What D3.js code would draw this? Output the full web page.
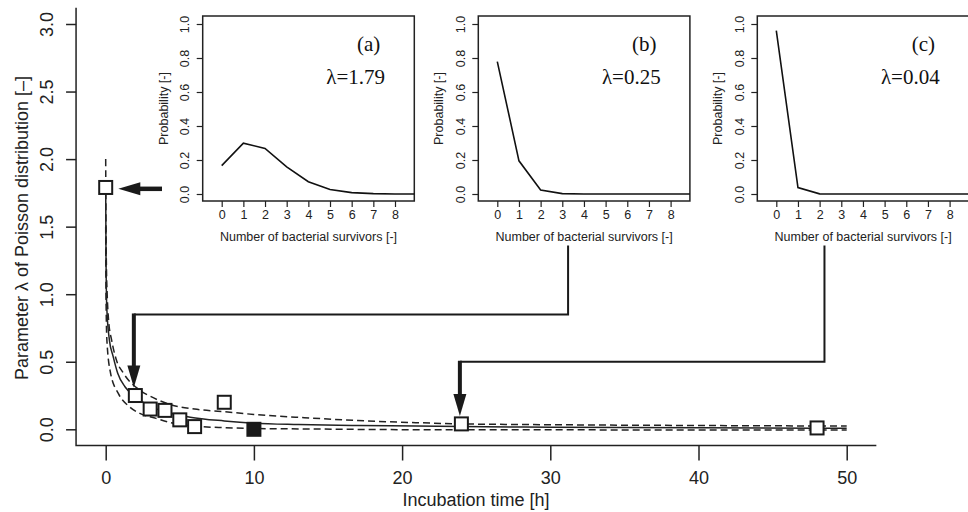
<!DOCTYPE html>
<html>
<head>
<meta charset="utf-8">
<script src="https://cdn.jsdelivr.net/npm/d3@7"></script>
<style>
  body { margin: 0; background: #fff; }
  svg { display: block; font-family: "Liberation Sans", Arial, sans-serif; }
</style>
</head>
<body>
<div id="chart"></div>
<script>
// observed lambda at each incubation time
var times = [0, 2, 3, 4, 5, 6, 8, 10, 24, 48];
var lambdas = [1.79, 0.25, 0.15, 0.14, 0.07, 0.02, 0.20, 0.00, 0.04, 0.01];
var filled = [false, false, false, false, false, false, false, true, false, false];

// fitted curve (solid) and bounds (dashed)
var fitT = [0, 0.02, 0.07, 0.25, 0.5, 0.81, 1.3, 2, 3, 4, 5.7, 8, 10, 13, 17, 21, 24, 30, 40, 50];
var fitLam = [1.79, 1.3, 0.91, 0.66, 0.54, 0.415, 0.315, 0.24, 0.17, 0.13, 0.09, 0.062, 0.045, 0.035, 0.028, 0.024, 0.02, 0.016, 0.011, 0.008];
var upT = [0, 0.02, 0.05, 0.1, 0.2, 0.4, 0.7, 1.2, 2.3, 3, 4.3, 6, 8, 10, 13.4, 17, 21, 24, 30, 40, 50];
var upLam = [2.0, 1.5, 1.2, 1.0, 0.8, 0.66, 0.52, 0.415, 0.29, 0.245, 0.185, 0.15, 0.13, 0.11, 0.086, 0.065, 0.049, 0.04, 0.034, 0.028, 0.024];
var loT = [0, 0.02, 0.08, 0.33, 0.85, 1.6, 2.3, 3.4, 4.6, 6.4, 8, 10, 13, 21, 30, 50];
var loLam = [1.5, 1.0, 0.66, 0.415, 0.266, 0.167, 0.118, 0.081, 0.044, 0.02, 0.012, 0.006, 0.003, -0.003, -0.004, -0.005];

var xTicks = [0, 10, 20, 30, 40, 50];
var yTicks = [0, 0.5, 1, 1.5, 2, 2.5, 3];

// insets: poisson probabilities for 0..9 survivors
var survivors = [0, 1, 2, 3, 4, 5, 6, 7, 8, 9];
var probA = [0.167, 0.299, 0.268, 0.160, 0.072, 0.026, 0.008, 0.002, 0.000, 0.000];
var probB = [0.779, 0.195, 0.024, 0.002, 0.000, 0.000, 0.000, 0.000, 0.000, 0.000];
var probC = [0.961, 0.038, 0.001, 0.000, 0.000, 0.000, 0.000, 0.000, 0.000, 0.000];
var insetTags = ['(a)', '(b)', '(c)'];
var insetLams = ['\u03bb=1.79', '\u03bb=0.25', '\u03bb=0.04'];
var insetXTicks = [0, 1, 2, 3, 4, 5, 6, 7, 8];
var insetYTicks = [0, 0.2, 0.4, 0.6, 0.8, 1.0];

var width = 968;
var height = 512;

var svg = d3.select('#chart')
    .append('svg')
    .attr('width', width)
    .attr('height', height);

var xScale = d3.scaleLinear().domain([0, 50]).range([105.7, 846.7]);
var yScale = d3.scaleLinear().domain([0, 3]).range([429.3, 24]);

// L shaped frame
svg.append('path')
    .attr('d', 'M' + xScale(-2) + ',' + yScale(3.12) + 'V' + yScale(-0.12) + 'H' + xScale(52))
    .attr('fill', 'none')
    .attr('stroke', '#222')
    .attr('stroke-width', 1.5);

var yAxis = svg.append('g')
    .attr('transform', 'translate(' + xScale(-2) + ',0)')
    .call(d3.axisLeft(yScale).tickValues(yTicks).tickFormat(d3.format('.1f')).tickSize(10).tickSizeOuter(0));
yAxis.select('.domain').remove();
yAxis.selectAll('line').attr('stroke', '#222').attr('stroke-width', 1.5);
yAxis.selectAll('text')
    .attr('x', null).attr('dy', null)
    .attr('text-anchor', 'middle')
    .attr('dominant-baseline', 'central')
    .attr('transform', 'translate(-29,0) rotate(-90)')
    .attr('font-size', 18)
    .attr('font-family', null)
    .attr('fill', '#222');

var xAxis = svg.append('g')
    .attr('transform', 'translate(0,' + yScale(-0.12) + ')')
    .call(d3.axisBottom(xScale).tickValues(xTicks).tickSize(15).tickPadding(11).tickSizeOuter(0));
xAxis.select('.domain').remove();
xAxis.selectAll('line').attr('stroke', '#222').attr('stroke-width', 1.5);
xAxis.selectAll('text')
    .attr('font-size', 18)
    .attr('font-family', null)
    .attr('fill', '#222');

svg.append('text')
    .attr('x', 476)
    .attr('y', 500)
    .attr('text-anchor', 'middle')
    .attr('dominant-baseline', 'central')
    .attr('font-size', 18)
    .attr('fill', '#222')
    .text('Incubation time [h]');

svg.append('text')
    .attr('transform', 'translate(22,228) rotate(-90)')
    .attr('text-anchor', 'middle')
    .attr('dominant-baseline', 'central')
    .attr('font-size', 18)
    .attr('fill', '#222')
    .text('Parameter \u03bb of Poisson distribution [\u2013]');

// curves
var line = d3.line()
    .x(function (d) { return xScale(d[0]); })
    .y(function (d) { return yScale(d[1]); })
    .curve(d3.curveMonotoneX);

svg.append('path')
    .attr('d', line(d3.zip(upT, upLam)))
    .attr('fill', 'none').attr('stroke', '#222').attr('stroke-width', 1.5)
    .attr('stroke-dasharray', '7,4');
svg.append('path')
    .attr('d', line(d3.zip(loT, loLam)))
    .attr('fill', 'none').attr('stroke', '#222').attr('stroke-width', 1.5)
    .attr('stroke-dasharray', '7,4');
svg.append('path')
    .attr('d', line(d3.zip(fitT, fitLam)))
    .attr('fill', 'none').attr('stroke', '#222').attr('stroke-width', 1.5);

// connectors from insets down to the points
function arrowHead(tipX, tipY, dir) {
    var len = 22, half = 6.5;
    var p;
    if (dir === 'down') {
        p = [[tipX, tipY], [tipX - half, tipY - len], [tipX + half, tipY - len]];
    } else {
        p = [[tipX, tipY], [tipX + len, tipY - half], [tipX + len, tipY + half]];
    }
    svg.append('path')
        .attr('d', 'M' + p.map(function (q) { return q.join(','); }).join('L') + 'Z')
        .attr('fill', '#1a1a1a');
}

function connector(fromT, topLam, levelLam, toT, toLam) {
    var x0 = xScale(fromT), x1 = xScale(toT) - 1.5;
    var yl = yScale(levelLam);
    var tipY = yScale(toLam) - 8;
    svg.append('path')
        .attr('d', 'M' + x0 + ',' + yScale(topLam) + 'V' + yl + 'H' + x1)
        .attr('fill', 'none').attr('stroke', '#1a1a1a').attr('stroke-width', 2);
    svg.append('line')
        .attr('x1', x1).attr('x2', x1)
        .attr('y1', yl - 1).attr('y2', tipY - 18)
        .attr('stroke', '#1a1a1a').attr('stroke-width', 4);
    arrowHead(x1, tipY, 'down');
}

connector(31.2, 1.36, 0.85, times[1], lambdas[1]);
connector(48.5, 1.36, 0.5, times[8], lambdas[8]);

// arrow pointing at the first point
svg.append('line')
    .attr('x1', xScale(0.85) + 18).attr('x2', xScale(3.8))
    .attr('y1', yScale(1.78)).attr('y2', yScale(1.78))
    .attr('stroke', '#1a1a1a').attr('stroke-width', 4.5);
arrowHead(xScale(0.85), yScale(1.78), 'left');

// points
svg.append('g')
    .selectAll('rect')
    .data(d3.range(times.length))
    .enter()
    .append('rect')
    .attr('x', function (i) { return xScale(times[i]) - 6.5; })
    .attr('y', function (i) { return yScale(lambdas[i]) - 6.5; })
    .attr('width', 13)
    .attr('height', 13)
    .attr('fill', function (i) { return filled[i] ? '#1a1a1a' : '#fff'; })
    .attr('stroke', '#1a1a1a')
    .attr('stroke-width', 2);

// insets
var insetLefts = [202.7, 478.3, 757.3];
var insetProbs = [probA, probB, probC];

insetLefts.forEach(function (left, k) {
    var top = 16, w = 211.6, h = 185;
    var ix = d3.scaleLinear().domain([0, 8]).range([left + 19, left + 192.3]);
    var iy = d3.scaleLinear().domain([0, 1]).range([top + 178, top + 8]);
    var g = svg.append('g');

    g.append('clipPath').attr('id', 'clip' + k)
        .append('rect').attr('x', left).attr('y', top).attr('width', w).attr('height', h);

    g.append('rect')
        .attr('x', left).attr('y', top).attr('width', w).attr('height', h)
        .attr('fill', '#fff').attr('stroke', '#222').attr('stroke-width', 1.5);

    var ax = g.append('g')
        .attr('transform', 'translate(0,' + (top + h) + ')')
        .call(d3.axisBottom(ix).tickValues(insetXTicks).tickSize(6).tickPadding(3).tickSizeOuter(0));
    ax.select('.domain').remove();
    ax.selectAll('line').attr('stroke', '#222').attr('stroke-width', 1.2);
    ax.selectAll('text').attr('font-size', 12.5).attr('font-family', null).attr('fill', '#222');

    var ay = g.append('g')
        .attr('transform', 'translate(' + left + ',0)')
        .call(d3.axisLeft(iy).tickValues(insetYTicks).tickFormat(d3.format('.1f')).tickSize(6).tickSizeOuter(0));
    ay.select('.domain').remove();
    ay.selectAll('line').attr('stroke', '#222').attr('stroke-width', 1.2);
    ay.selectAll('text')
        .attr('x', null).attr('dy', null)
        .attr('text-anchor', 'middle')
        .attr('dominant-baseline', 'central')
        .attr('transform', 'translate(-17.5,0) rotate(-90)')
        .attr('font-size', 12.5)
        .attr('font-family', null)
        .attr('fill', '#222');

    g.append('text')
        .attr('transform', 'translate(' + (left - 39) + ',' + (top + h / 2) + ') rotate(-90)')
        .attr('text-anchor', 'middle')
        .attr('dominant-baseline', 'central')
        .attr('font-size', 12.5)
        .attr('fill', '#222')
        .text('Probability [-]');

    g.append('text')
        .attr('x', left + w / 2)
        .attr('y', top + 221)
        .attr('text-anchor', 'middle')
        .attr('dominant-baseline', 'central')
        .attr('font-size', 12.5)
        .attr('fill', '#222')
        .text('Number of bacterial survivors [-]');

    var pl = d3.line()
        .x(function (d) { return ix(d[0]); })
        .y(function (d) { return iy(d[1]); });
    g.append('path')
        .attr('d', pl(d3.zip(survivors, insetProbs[k])))
        .attr('clip-path', 'url(#clip' + k + ')')
        .attr('fill', 'none')
        .attr('stroke', '#111')
        .attr('stroke-width', 1.6);

    g.append('text')
        .attr('x', left + 166)
        .attr('y', top + 27.5)
        .attr('text-anchor', 'middle')
        .attr('dominant-baseline', 'central')
        .attr('font-family', '"Liberation Serif", "Times New Roman", serif')
        .attr('font-size', 21)
        .attr('fill', '#111')
        .text(insetTags[k]);

    g.append('text')
        .attr('x', left + 153)
        .attr('y', top + 61)
        .attr('text-anchor', 'middle')
        .attr('dominant-baseline', 'central')
        .attr('font-family', '"Liberation Serif", "Times New Roman", serif')
        .attr('font-size', 21)
        .attr('fill', '#111')
        .text(insetLams[k]);
});
</script>
</body>
</html>
